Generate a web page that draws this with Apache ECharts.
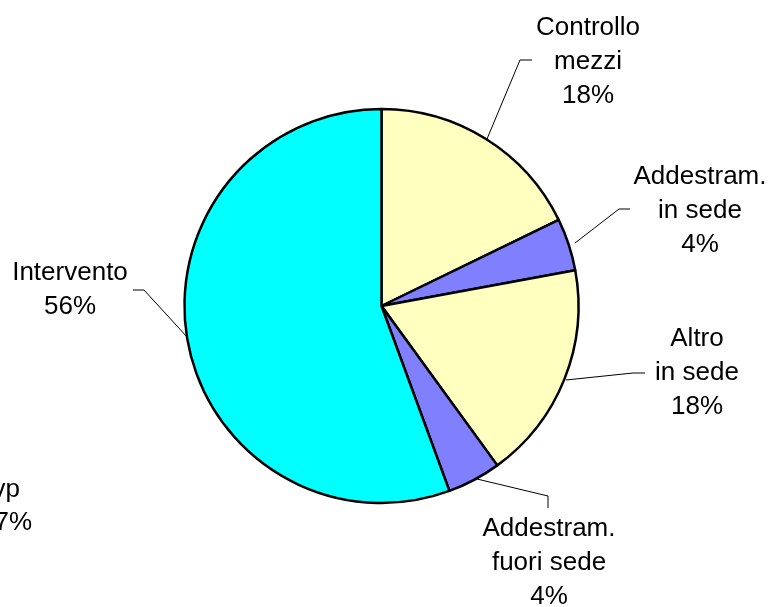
<!DOCTYPE html>
<html>
<head>
<meta charset="utf-8">
<script src="https://cdn.jsdelivr.net/npm/echarts@6/dist/echarts.min.js"></script>
<style>
  html, body { margin: 0; padding: 0; background: #fff; }
  #chart { width: 771px; height: 607px; }
</style>
</head>
<body>
<div id="chart"></div>
<script>
// categories and shares (%), clockwise from 12 o'clock
const categories = ['Controllo\nmezzi', 'Addestram.\nin sede', 'Altro\nin sede', 'Addestram.\nfuori sede', 'Intervento'];
const values = [17.8, 4.3, 17.9, 4.4, 55.6];
const sliceColors = ['#FFFFC0', '#8080FF', '#FFFFC0', '#8080FF', '#00FFFF'];

// where each label sits and how its leader line runs
const labelPos = [
  { x: 588, y: 62, line: [[487, 139], [520, 60], [532, 60]] },
  { x: 700, y: 211, line: [[575, 243], [619, 209], [630, 209]] },
  { x: 697, y: 373, line: [[566, 380], [633, 373], [645, 373]] },
  { x: 549, y: 563, line: [[477, 479], [548, 496], [548, 508]] },
  { x: 70, y: 290, line: [[188, 338], [144, 290], [133, 290]] }
];

const chart = echarts.init(document.getElementById('chart'));

const font = '"Liberation Sans", Arial, sans-serif';

const option = {
  animation: false,
  series: [{
    type: 'pie',
    center: [381.5, 306],
    radius: 197,
    startAngle: 90,
    clockwise: true,
    percentPrecision: 0,
    silent: true,
    data: categories.map((name, i) => ({
      name: name,
      value: values[i],
      itemStyle: { color: sliceColors[i] }
    })),
    itemStyle: {
      borderColor: '#000',
      borderWidth: 2.5
    },
    label: {
      show: true,
      formatter: '{b}\n{d}%',
      fontFamily: font,
      fontSize: 26,
      lineHeight: 34,
      color: '#000',
      align: 'center'
    },
    labelLine: {
      show: true,
      lineStyle: { color: '#000', width: 1 }
    },
    labelLayout: function (params) {
      const p = labelPos[params.dataIndex];
      return {
        x: p.x,
        y: p.y,
        align: 'center',
        verticalAlign: 'middle',
        labelLinePoints: p.line
      };
    },
    emphasis: { disabled: true }
  }],
  // label of a neighbouring chart, cut by the left edge
  graphic: [
    { type: 'text', style: { text: 'vp', x: 20, y: 490, align: 'right', verticalAlign: 'middle', font: '26px ' + font, fill: '#000' } },
    { type: 'text', style: { text: '7%', x: 32, y: 523, align: 'right', verticalAlign: 'middle', font: '26px ' + font, fill: '#000' } }
  ]
};

chart.setOption(option);
</script>
</body>
</html>
